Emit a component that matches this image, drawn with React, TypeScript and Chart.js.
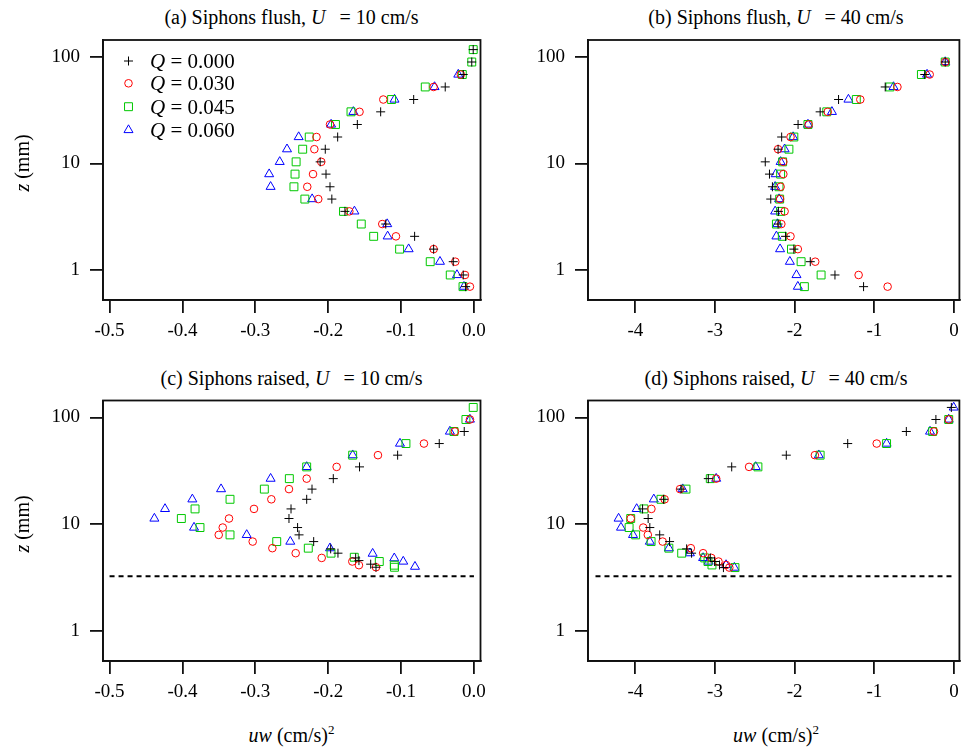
import React, { useEffect, useRef } from "react";
import { Chart, registerables } from "chart.js";
import { drawPoint } from "chart.js/helpers";

Chart.register(...registerables);

const FONT = '"Liberation Serif", "Times New Roman", serif';

// ---------- tick labels ----------
const X_TICKS_A = [-0.5, -0.4, -0.3, -0.2, -0.1, 0];
const X_LABELS_A = ["-0.5", "-0.4", "-0.3", "-0.2", "-0.1", "0.0"];
const X_TICKS_B = [-4, -3, -2, -1, 0];
const X_LABELS_B = ["-4", "-3", "-2", "-1", "0"];
const Y_TICKS = [1, 10, 100];
const Y_LABELS = ["1", "10", "100"];
const Q_LABELS = ["0.000", "0.030", "0.045", "0.060"];
const SIPHON_Z = 3.25;

// ---------- (a) Siphons flush, U = 10 cm/s ----------
const zA_full = [117, 89.5, 68.3, 52.2, 39.8, 30.5, 23.2, 17.7, 13.6, 10.35, 7.94, 6.04, 4.63, 3.55, 2.7, 2.07, 1.57, 1.197, 0.898, 0.698];
const zA_part = [68.3, 52.2, 39.8, 30.5, 23.2, 17.7, 13.6, 10.35, 7.94, 6.04, 4.63, 3.55, 2.7, 2.07, 1.57, 1.197, 0.898, 0.698];
const a_q000 = [-0.001, -0.003, -0.0147, -0.0394, -0.0827, -0.128, -0.16, -0.187, -0.204, -0.211, -0.203, -0.1975, -0.195, -0.177, -0.121, -0.0814, -0.0553, -0.0284, -0.0147, -0.0114];
const a_q030 = [-0.018, -0.0553, -0.1244, -0.157, -0.1975, -0.216, -0.219, -0.2095, -0.2208, -0.2287, -0.2136, -0.171, -0.1258, -0.107, -0.0553, -0.0256, -0.0123, -0.0055];
const a_q045 = [-0.001, -0.003, -0.016, -0.0668, -0.113, -0.1687, -0.19, -0.226, -0.235, -0.244, -0.2455, -0.247, -0.232, -0.179, -0.1546, -0.1376, -0.102, -0.06, -0.0325, -0.015];
const a_q060 = [-0.0215, -0.054, -0.109, -0.1655, -0.196, -0.2405, -0.2565, -0.2665, -0.281, -0.279, -0.222, -0.164, -0.119, -0.1184, -0.0896, -0.0466, -0.0233, -0.0137];

// ---------- (b) Siphons flush, U = 40 cm/s ----------
const zB = [89.5, 68.3, 52.2, 39.8, 30.5, 23.2, 17.7, 13.6, 10.35, 7.94, 6.04, 4.63, 3.55, 2.7, 2.07, 1.57, 1.197, 0.898, 0.698];
const b_q000 = [-0.11, -0.367, -0.863, -1.449, -1.68, -1.957, -2.163, -2.208, -2.369, -2.316, -2.279, -2.3, -2.204, -2.208, -2.114, -2.01, -1.804, -1.494, -1.135];
const b_q030 = [-0.11, -0.305, -0.71, -1.176, -1.585, -1.824, -2.052, -2.208, -2.142, -2.142, -2.176, -2.183, -2.126, -2.167, -2.052, -1.96, -1.742, -1.197, -0.833];
const b_q045 = [-0.11, -0.409, -0.805, -1.226, -1.597, -1.833, -2.01, -2.072, -2.151, -2.176, -2.196, -2.188, -2.176, -2.229, -2.155, -2.04, -1.919, -1.668, -1.878];
const b_q060 = [-0.11, -0.338, -0.759, -1.325, -1.532, -1.833, -2.019, -2.126, -2.176, -2.238, -2.245, -2.196, -2.245, -2.217, -2.229, -2.183, -2.06, -1.977, -1.96];

// ---------- (c) Siphons raised, U = 10 cm/s ----------
const zC_q000 = [73.8, 56.9, 44.3, 34.4, 26.7, 21.3, 17.1, 13.9, 11.3, 9.3, 7.94, 6.87, 5.87, 5.35, 4.83, 4.56, 4.22, 3.95];
const c_q000 = [-0.0133, -0.0476, -0.1047, -0.157, -0.193, -0.2222, -0.2295, -0.251, -0.2538, -0.242, -0.24, -0.2199, -0.1966, -0.1866, -0.1623, -0.1578, -0.1417, -0.1344];
const zC_q030 = [95.6, 73.8, 56.9, 44.3, 34.4, 26.7, 21.3, 17.1, 13.9, 11.3, 9.3, 7.94, 6.87, 5.96, 5.35, 4.83, 4.47, 4.13, 3.95];
const c_q030 = [-0.0055, -0.026, -0.0686, -0.1317, -0.1884, -0.2295, -0.2538, -0.278, -0.3018, -0.3361, -0.3447, -0.3502, -0.3036, -0.2766, -0.2446, -0.2089, -0.1669, -0.1578, -0.1344];
const zC_q045 = [124, 95.6, 73.8, 56.9, 44.3, 34.4, 26.7, 21.3, 17.1, 13.9, 11.3, 9.3, 7.94, 6.87, 5.96, 5.35, 4.9, 4.47, 4.13, 3.95];
const c_q045 = [-0.001, -0.011, -0.0274, -0.0933, -0.1664, -0.2295, -0.2533, -0.2876, -0.3347, -0.3827, -0.4015, -0.3759, -0.3347, -0.2706, -0.2273, -0.1961, -0.1642, -0.1299, -0.1093, -0.109];
const zC_q060 = [95.6, 73.8, 56.9, 44.3, 34.4, 26.7, 21.3, 17.1, 13.9, 11.3, 9.3, 7.94, 6.87, 5.96, 5.3, 4.8, 4.47, 4.0];
const c_q060 = [-0.0055, -0.033, -0.1015, -0.1664, -0.2295, -0.279, -0.347, -0.3864, -0.4239, -0.4385, -0.3841, -0.3118, -0.252, -0.1975, -0.139, -0.1093, -0.097, -0.0809];

// ---------- (d) Siphons raised, U = 40 cm/s ----------
const zD_q000 = [124, 95.6, 73.8, 56.9, 44.3, 34.4, 26.7, 21.3, 17.1, 13.9, 11.3, 9.3, 7.94, 6.87, 5.87, 5.35, 4.83, 4.47, 4.15, 3.92];
const d_q000 = [-0.033, -0.227, -0.598, -1.334, -2.105, -2.79, -3.084, -3.426, -3.645, -3.909, -3.839, -3.818, -3.694, -3.57, -3.356, -3.294, -3.059, -3.005, -2.943, -2.894];
const zD_q030 = [95.6, 73.8, 56.9, 44.3, 34.4, 26.7, 21.3, 17.1, 13.9, 11.3, 9.3, 7.94, 6.87, 5.96, 5.35, 4.83, 4.47, 4.15, 3.92];
const d_q030 = [-0.066, -0.251, -0.97, -1.746, -2.572, -2.985, -3.439, -3.632, -3.798, -4.058, -3.901, -3.843, -3.657, -3.303, -3.149, -3.046, -2.956, -2.861, -2.82];
const zD_q045 = [95.6, 73.8, 56.9, 44.3, 34.4, 26.7, 21.3, 17.1, 13.9, 11.3, 9.3, 7.94, 6.87, 5.96, 5.35, 4.83, 4.47, 4.15, 3.92];
const d_q045 = [-0.066, -0.268, -0.846, -1.68, -2.461, -3.059, -3.364, -3.678, -3.892, -4.058, -4.078, -3.996, -3.802, -3.579, -3.418, -3.129, -3.088, -3.038, -2.749];
const zD_q060 = [124, 95.6, 73.8, 56.9, 44.3, 34.4, 26.7, 21.3, 17.1, 13.9, 11.3, 9.3, 7.94, 6.87, 5.96, 5.35, 4.83, 4.47, 4.15, 3.92];
const d_q060 = [-0.0037, -0.066, -0.301, -0.846, -1.697, -2.489, -2.985, -3.405, -3.768, -3.983, -4.21, -4.18, -4.029, -3.818, -3.579, -3.315, -3.149, -3.08, -2.861, -2.757];

const MARKERS = [
  { pointStyle: "cross", color: "#000000", radius: 4.5 },
  { pointStyle: "circle", color: "#ff0000", radius: 3.8 },
  { pointStyle: "rect", color: "#00c800", radius: 5.6 },
  { pointStyle: "triangle", color: "#0000ff", radius: 5.2 },
];

type Series = { x: number[]; z: number[] };
type Spec = {
  left: number;
  top: number;
  w: number;
  h: number;
  yAxisW: number;
  padT: number;
  padR: number;
  padB: number;
  xAxisH: number;
  xMin: number;
  xMax: number;
  xTicks: number[];
  xLabels: string[];
  yMin: number;
  yMax: number;
  series: Series[];
  dashed?: { x0: number; x1: number };
  legend?: boolean;
};

const boxPlugin = {
  id: "boxFrame",
  afterDatasetsDraw(chart: any) {
    const { ctx, chartArea } = chart;
    ctx.save();
    ctx.strokeStyle = "#111";
    ctx.lineWidth = 1.8;
    ctx.strokeRect(chartArea.left, chartArea.top, chartArea.right - chartArea.left, chartArea.bottom - chartArea.top);
    ctx.restore();
  },
};

function makeLegendPlugin(canvasTop: number) {
  const ys = [61, 83.3, 106.7, 130];
  return {
    id: "qLegend",
    afterDraw(chart: any) {
      const ctx = chart.ctx;
      ctx.save();
      MARKERS.forEach((m, i) => {
        ctx.strokeStyle = m.color;
        ctx.fillStyle = "rgba(0,0,0,0)";
        ctx.lineWidth = 1;
        drawPoint(ctx, { pointStyle: m.pointStyle as any, radius: m.radius, rotation: 0, borderWidth: 1 } as any, 128.5, ys[i] - canvasTop);
      });
      ctx.restore();
    },
  };
}

function Panel({ spec }: { spec: Spec }) {
  const ref = useRef<HTMLCanvasElement | null>(null);
  useEffect(() => {
    if (!ref.current) return;
    const datasets: any[] = spec.series.map((s, i) => ({
      type: "scatter",
      label: "Q = " + Q_LABELS[i],
      data: s.x.map((x, j) => ({ x, y: s.z[j] })),
      pointStyle: MARKERS[i].pointStyle,
      pointRadius: MARKERS[i].radius,
      borderColor: MARKERS[i].color,
      backgroundColor: "rgba(0,0,0,0)",
      pointBorderWidth: 1,
      showLine: false,
    }));
    if (spec.dashed) {
      datasets.push({
        type: "line",
        label: "siphon",
        data: [
          { x: spec.dashed.x0, y: SIPHON_Z },
          { x: spec.dashed.x1, y: SIPHON_Z },
        ],
        borderColor: "#000",
        borderWidth: 2,
        borderDash: [5, 4],
        pointRadius: 0,
        fill: false,
      });
    }
    const plugins: any[] = [boxPlugin];
    if (spec.legend) plugins.push(makeLegendPlugin(spec.top));
    const chart = new Chart(ref.current, {
      type: "scatter",
      data: { datasets },
      plugins,
      options: {
        animation: false,
        responsive: false,
        maintainAspectRatio: false,
        events: [],
        layout: { padding: { left: 0, top: spec.padT, right: spec.padR, bottom: spec.padB } },
        plugins: { legend: { display: false }, tooltip: { enabled: false }, title: { display: false } },
        scales: {
          x: {
            type: "linear",
            min: spec.xMin,
            max: spec.xMax,
            afterBuildTicks: (s: any) => {
              s.ticks = spec.xTicks.map((v) => ({ value: v }));
            },
            afterFit: (s: any) => {
              s.height = spec.xAxisH;
              s.paddingLeft = 0;
              s.paddingRight = 0;
            },
            ticks: {
              autoSkip: false,
              maxRotation: 0,
              padding: 7,
              color: "#000",
              font: { family: FONT, size: 19 },
              callback: (_v: any, i: number) => spec.xLabels[i],
            },
            grid: { display: true, drawOnChartArea: false, drawTicks: true, tickLength: 13, color: "#111", lineWidth: 1.8 },
            border: { display: true, color: "#111", width: 1.8 },
          },
          y: {
            type: "logarithmic",
            min: spec.yMin,
            max: spec.yMax,
            afterBuildTicks: (s: any) => {
              s.ticks = Y_TICKS.map((v) => ({ value: v }));
            },
            afterFit: (s: any) => {
              s.width = spec.yAxisW;
              s.paddingTop = 0;
              s.paddingBottom = 0;
            },
            ticks: {
              autoSkip: false,
              padding: 10,
              color: "#000",
              font: { family: FONT, size: 19 },
              callback: (_v: any, i: number) => Y_LABELS[i],
            },
            grid: { display: true, drawOnChartArea: false, drawTicks: true, tickLength: 13, color: "#111", lineWidth: 1.8 },
            border: { display: true, color: "#111", width: 1.8 },
          },
        },
      } as any,
    });
    let alive = true;
    const fonts: any = (document as any).fonts;
    if (fonts && fonts.load) {
      Promise.all([fonts.load('19px "Liberation Serif"'), fonts.load('italic 19px "Liberation Serif"')])
        .then(() => {
          if (alive) chart.update();
        })
        .catch(() => {});
    }
    return () => {
      alive = false;
      chart.destroy();
    };
  }, []);
  return (
    <canvas
      ref={ref}
      width={spec.w}
      height={spec.h}
      style={{ position: "absolute", left: spec.left, top: spec.top, width: spec.w, height: spec.h }}
    />
  );
}

const Y_MIN = 0.523;
const Y_MAX = 144;

const SPECS: Spec[] = [
  {
    left: 0, top: 30, w: 490, h: 330, yAxisW: 103, padT: 10, padR: 9.5, padB: 10, xAxisH: 50,
    xMin: -0.509, xMax: 0.009, xTicks: X_TICKS_A, xLabels: X_LABELS_A, yMin: Y_MIN, yMax: Y_MAX,
    series: [
      { x: a_q000, z: zA_full },
      { x: a_q030, z: zA_part },
      { x: a_q045, z: zA_full },
      { x: a_q060, z: zA_part },
    ],
    legend: true,
  },
  {
    left: 490, top: 30, w: 476, h: 330, yAxisW: 98, padT: 10, padR: 1.5, padB: 10, xAxisH: 50,
    xMin: -4.594, xMax: 0.068, xTicks: X_TICKS_B, xLabels: X_LABELS_B, yMin: Y_MIN, yMax: Y_MAX,
    series: [
      { x: b_q000, z: zB },
      { x: b_q030, z: zB },
      { x: b_q045, z: zB },
      { x: b_q060, z: zB },
    ],
  },
  {
    left: 0, top: 391, w: 490, h: 330, yAxisW: 103, padT: 9.5, padR: 9.5, padB: 10, xAxisH: 50,
    xMin: -0.509, xMax: 0.009, xTicks: X_TICKS_A, xLabels: X_LABELS_A, yMin: Y_MIN, yMax: Y_MAX,
    series: [
      { x: c_q000, z: zC_q000 },
      { x: c_q030, z: zC_q030 },
      { x: c_q045, z: zC_q045 },
      { x: c_q060, z: zC_q060 },
    ],
    dashed: { x0: -0.5, x1: 0 },
  },
  {
    left: 490, top: 391, w: 476, h: 330, yAxisW: 98, padT: 9.5, padR: 1.5, padB: 10, xAxisH: 50,
    xMin: -4.594, xMax: 0.068, xTicks: X_TICKS_B, xLabels: X_LABELS_B, yMin: Y_MIN, yMax: Y_MAX,
    series: [
      { x: d_q000, z: zD_q000 },
      { x: d_q030, z: zD_q030 },
      { x: d_q045, z: zD_q045 },
      { x: d_q060, z: zD_q060 },
    ],
    dashed: { x0: -4.5, x1: 0 },
  },
];

const TITLES = [
  { pre: "(a) Siphons flush, ", post: "= 10 cm/s", cx: 291.5, cy: 17 },
  { pre: "(b) Siphons flush, ", post: "= 40 cm/s", cx: 776, cy: 17 },
  { pre: "(c) Siphons raised, ", post: "= 10 cm/s", cx: 291.5, cy: 378 },
  { pre: "(d) Siphons raised, ", post: "= 40 cm/s", cx: 776, cy: 378 },
];

const textBase: React.CSSProperties = {
  position: "absolute",
  fontFamily: FONT,
  color: "#000",
  whiteSpace: "nowrap",
  lineHeight: 1,
};

export default function App() {
  return (
    <div style={{ position: "absolute", left: 0, top: 0, width: 966, height: 747, background: "#fff", overflow: "hidden" }}>
      {SPECS.map((s, i) => (
        <Panel key={i} spec={s} />
      ))}
      {TITLES.map((t, i) => (
        <div key={"t" + i} style={{ ...textBase, left: t.cx, top: t.cy, fontSize: 20, transform: "translate(-50%, -50%)" }}>
          {t.pre}
          <i>U</i>
          <span style={{ display: "inline-block", width: 14 }} />
          {t.post}
        </div>
      ))}
      {[163, 524].map((cy, i) => (
        <div key={"y" + i} style={{ ...textBase, left: 22, top: cy, fontSize: 20, transform: "translate(-50%, -50%) rotate(-90deg)" }}>
          <i>z</i> (mm)
        </div>
      ))}
      {[291.5, 776].map((cx, i) => (
        <div key={"x" + i} style={{ ...textBase, left: cx, top: 735, fontSize: 20, transform: "translate(-50%, -50%)" }}>
          <i>uw</i> (cm/s)<sup style={{ fontSize: 13, verticalAlign: "8px", lineHeight: 0 }}>2</sup>
        </div>
      ))}
      {Q_LABELS.map((q, i) => (
        <div key={"q" + i} style={{ ...textBase, left: 150, top: [61, 83.3, 106.7, 130][i], fontSize: 21, transform: "translateY(-50%)" }}>
          <i>Q</i> = {q}
        </div>
      ))}
    </div>
  );
}
